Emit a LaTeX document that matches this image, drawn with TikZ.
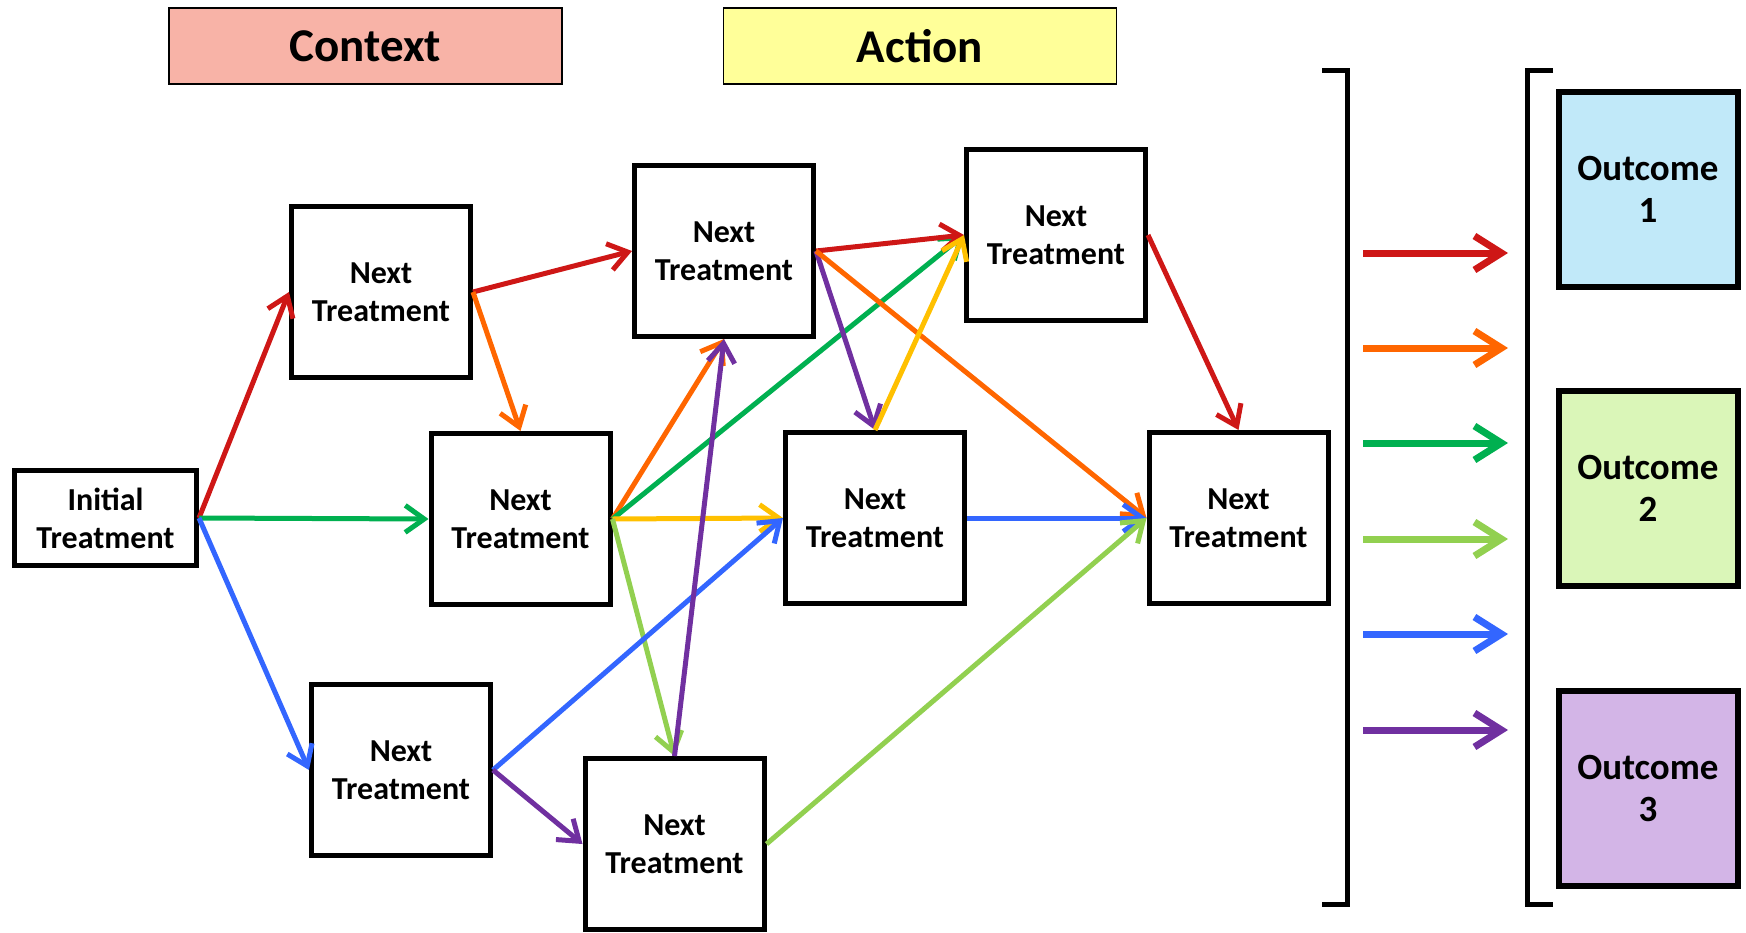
\documentclass[tikz,border=0pt]{standalone}
\usepackage{fontspec}
\setmainfont{Carlito}
\usetikzlibrary{arrows.meta}

\definecolor{lnred}{RGB}{206,23,22}
\definecolor{lnorange}{RGB}{255,102,0}
\definecolor{lngreen}{RGB}{0,176,80}
\definecolor{lnlime}{RGB}{146,208,80}
\definecolor{lnblue}{RGB}{51,102,255}
\definecolor{lnpurple}{RGB}{112,48,160}
\definecolor{lnyellow}{RGB}{255,192,0}
\definecolor{ctxfill}{RGB}{248,179,167}
\definecolor{actfill}{RGB}{255,255,153}
\definecolor{outA}{RGB}{193,233,249}
\definecolor{outB}{RGB}{218,246,184}
\definecolor{outC}{RGB}{211,181,231}

\tikzset{
  treat/.style={draw, line width=5pt, minimum width=179pt, minimum height=171pt,
    inner sep=0pt, align=center, font=\fontsize{32}{38}\selectfont\bfseries},
  outcome/.style={draw, line width=6pt, minimum width=179pt, minimum height=195pt,
    inner sep=0pt, align=center, font=\fontsize{37}{42}\selectfont\bfseries},
  header/.style={draw, line width=1.3pt, minimum width=393pt, minimum height=76pt,
    inner sep=0pt, font=\fontsize{47}{56}\selectfont\bfseries},
  link/.style={line width=5pt, -{Straight Barb[length=19pt,width=27pt]}},
  flow/.style={line width=7pt, -{Straight Barb[length=27pt,width=34pt]}},
}

\begin{document}
\begin{tikzpicture}[x=1pt, y=-1pt]
  \useasboundingbox (0,0) rectangle (1746,932);

  % Headers
  \node[header, fill=ctxfill] (context) at (365.5,46) {Context};
  \node[header, fill=actfill] (action) at (920,46) {Action};

  % Treatment boxes
  \node[treat, minimum width=182pt, minimum height=95pt] (init) at (105.5,518) {Initial\\Treatment};
  \node[treat] (nA) at (381,292) {Next\\Treatment};
  \node[treat] (nB) at (724,251) {Next\\Treatment};
  \node[treat] (nC) at (1056,235) {Next\\Treatment};
  \node[treat] (nD) at (520.5,519) {Next\\Treatment};
  \node[treat] (nE) at (875,518) {Next\\Treatment};
  \node[treat] (nF) at (1238.5,518) {Next\\Treatment};
  \node[treat] (nG) at (401,770) {Next\\Treatment};
  \node[treat] (nH) at (674.5,844) {Next\\Treatment};

  % Paths from the initial treatment
  \draw[link, lnred] (init.east) -- (nA.west);
  \draw[link, lngreen] (init.east) -- (nD.west);
  \draw[link, lnblue] (init.east) -- (nG.west);

  % Second step
  \draw[link, lnred] (nA.east) -- (nB.west);
  \draw[link, lnorange] (nA.east) -- (nD.north);
  \draw[link, lnorange] (nD.east) -- (nB.south);
  \draw[link, lngreen] (nD.east) -- (nC.west);
  \draw[link, lnyellow] (nD.east) -- (nE.west);
  \draw[link, lnlime] (nD.east) -- (nH.north);
  \draw[link, lnblue] (nG.east) -- (nE.west);
  \draw[link, lnpurple] (nG.east) -- (nH.west);

  % Third step
  \draw[link, lnred] (nB.east) -- (nC.west);
  \draw[link, lnpurple] (nB.east) -- (nE.north);
  \draw[link, lnorange] (nB.east) -- (nF.west);
  \draw[link, lnyellow] (nE.north) -- (nC.west);
  \draw[link, lnred] (nC.east) -- (nF.north);
  \draw[link, lnblue] (nE.east) -- (nF.west);
  \draw[link, lnlime] (nH.east) -- (nF.west);
  \draw[link, lnpurple] (nH.north) -- (nB.south);

  % Brackets
  \draw[line width=5pt] (1322,70) -- (1347,70) -- (1347,904) -- (1322,904);
  \draw[line width=5pt] (1553,70) -- (1527,70) -- (1527,904) -- (1553,904);

  % Paths into the outcomes
  \foreach \y/\c [count=\i] in {253/lnred, 348/lnorange, 443/lngreen,
                                539/lnlime, 634/lnblue, 730/lnpurple} {
    \coordinate (fs\i) at (1363,\y);
    \coordinate (fe\i) at (1508,\y);
    \draw[flow, \c] (fs\i) -- (fe\i);
  }

  % Outcomes
  \node[outcome, fill=outA] (out1) at (1648,189) {Outcome\\1};
  \node[outcome, fill=outB] (out2) at (1648,488) {Outcome\\2};
  \node[outcome, fill=outC] (out3) at (1648,788) {Outcome\\3};

\end{tikzpicture}
\end{document}
